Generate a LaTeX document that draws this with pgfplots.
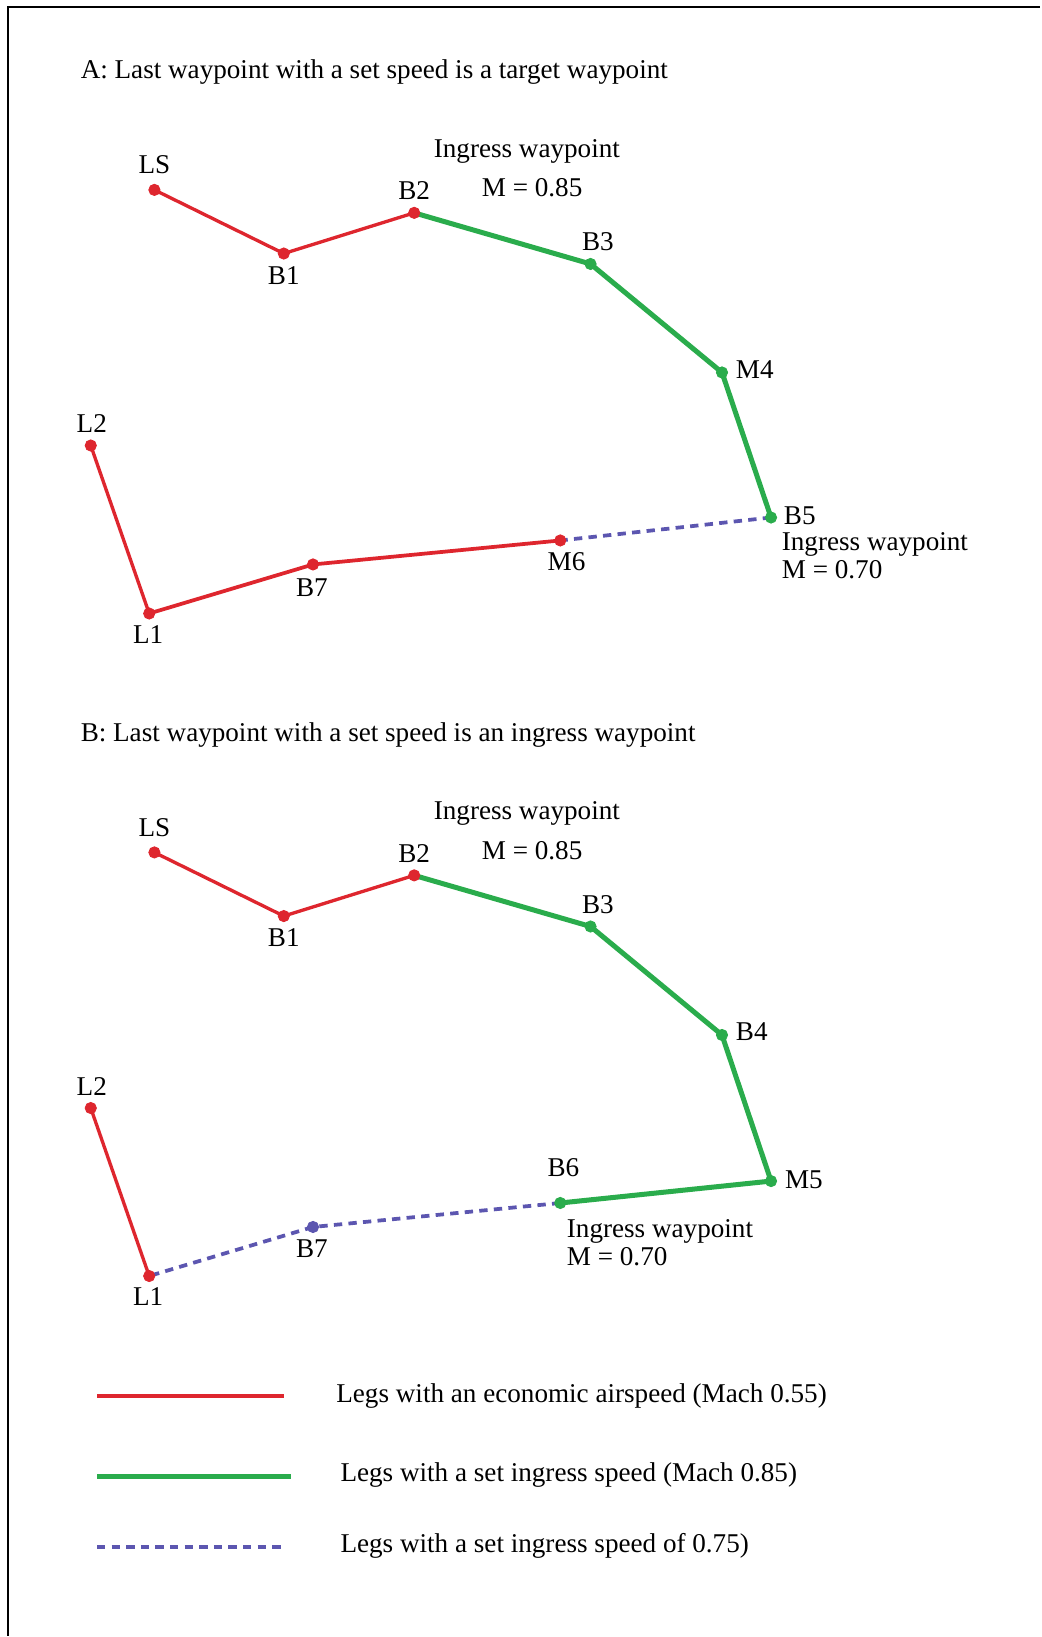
\documentclass[border=0pt]{standalone}
\usepackage{fontspec}
\setmainfont{Liberation Serif}
\usepackage{pgfplots}
\pgfplotsset{compat=1.18}
\definecolor{legred}{RGB}{222,38,46}
\definecolor{leggreen}{RGB}{42,172,76}
\definecolor{legblue}{RGB}{92,86,176}
\begin{document}
\begin{tikzpicture}[font=\fontsize{13}{15.5}\selectfont, inner sep=0pt]
\begin{axis}[
  hide axis, scale only axis,
  width=498.5pt, height=784pt,
  xmin=0, xmax=997, ymin=0, ymax=1568,
  y dir=reverse, clip=false,
  eco/.style={legred, line width=1.6pt, mark=none},
  ing/.style={leggreen, line width=2.4pt, mark=none},
  mid/.style={legblue, line width=1.8pt, dash pattern=on 4pt off 3pt, mark=none},
  dot/.style={only marks, mark=*, mark size=2.7pt},
]
% keep the whole page as the bounding box
\path (axis cs:0,0) rectangle (axis cs:997,1568);
% frame
\addplot[black, line width=1pt, mark=none] coordinates {(8,1568) (8,7) (997,7)};

% ---------- panel A ----------
\addplot[eco] coordinates {(148,182) (272,243) (397,204)};
\addplot[ing] coordinates {(397,204) (566,253) (692,357) (739,496)};
\addplot[mid] coordinates {(739,496) (537,518)};
\addplot[eco, line width=1.8pt] coordinates {(537,518) (300,541) (143,588)};
\addplot[eco] coordinates {(143,588) (87,427)};
\addplot[dot, legred] coordinates {(148,182) (272,243) (397,204) (537,518) (300,541) (143,588) (87,427)};
\addplot[dot, leggreen] coordinates {(566,253) (692,357) (739,496)};

\node[anchor=west] at (axis cs:77,69) {A: Last waypoint with a set speed is a target waypoint};
\node at (axis cs:148,158) {LS};
\node at (axis cs:272,264) {B1};
\node at (axis cs:397,183) {B2};
\node at (axis cs:505,145) {Ingress waypoint};
\node at (axis cs:510,180) {M = 0.85};
\node at (axis cs:573,232) {B3};
\node[anchor=west] at (axis cs:705,354) {M4};
\node at (axis cs:88,406) {L2};
\node[anchor=west] at (axis cs:751,494) {B5};
\node[anchor=west] at (axis cs:749,522) {Ingress waypoint};
\node[anchor=west] at (axis cs:749,546) {M = 0.70};
\node at (axis cs:543,538) {M6};
\node at (axis cs:299,563) {B7};
\node at (axis cs:142,608) {L1};

% ---------- panel B ----------
\addplot[eco] coordinates {(148,817) (272,878) (397,839)};
\addplot[ing] coordinates {(397,839) (566,888) (692,992) (739,1132) (537,1153)};
\addplot[mid] coordinates {(537,1153) (300,1176) (143,1223)};
\addplot[eco] coordinates {(143,1223) (87,1062)};
\addplot[dot, legred] coordinates {(148,817) (272,878) (397,839) (143,1223) (87,1062)};
\addplot[dot, leggreen] coordinates {(566,888) (692,992) (739,1132) (537,1153)};
\addplot[dot, legblue] coordinates {(300,1176)};

\node[anchor=west] at (axis cs:77,704) {B: Last waypoint with a set speed is an ingress waypoint};
\node at (axis cs:148,793) {LS};
\node at (axis cs:272,899) {B1};
\node at (axis cs:397,818) {B2};
\node at (axis cs:505,780) {Ingress waypoint};
\node at (axis cs:510,815) {M = 0.85};
\node at (axis cs:573,867) {B3};
\node[anchor=west] at (axis cs:705,989) {B4};
\node at (axis cs:88,1041) {L2};
\node at (axis cs:540,1119) {B6};
\node[anchor=west] at (axis cs:752,1131) {M5};
\node[anchor=west] at (axis cs:543,1180) {Ingress waypoint};
\node[anchor=west] at (axis cs:543,1204) {M = 0.70};
\node at (axis cs:299,1197) {B7};
\node at (axis cs:142,1243) {L1};

% ---------- legend ----------
\addplot[eco] coordinates {(93,1338) (272,1338)};
\addplot[ing, line width=2.7pt] coordinates {(93,1415) (279,1415)};
\addplot[mid] coordinates {(93,1483) (272,1483)};
\node[anchor=west] at (axis cs:322,1338) {Legs with an economic airspeed (Mach 0.55)};
\node[anchor=west] at (axis cs:326,1414) {Legs with a set ingress speed (Mach 0.85)};
\node[anchor=west] at (axis cs:326,1482) {Legs with a set ingress speed of 0.75)};
\end{axis}
\end{tikzpicture}
\end{document}
